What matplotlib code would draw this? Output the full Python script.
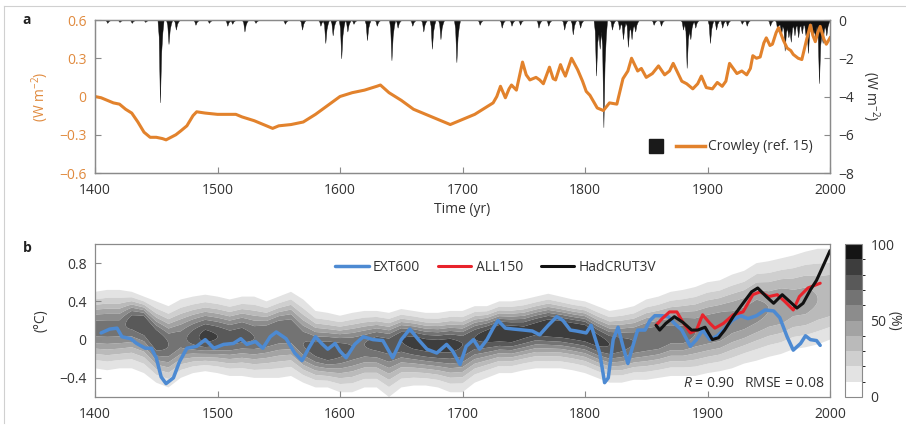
import numpy as np
import matplotlib
matplotlib.use("Agg")
import matplotlib.pyplot as plt
from matplotlib.colors import ListedColormap, BoundaryNorm
from matplotlib.lines import Line2D
from matplotlib.legend_handler import HandlerTuple
from matplotlib.ticker import FuncFormatter, FixedLocator

plt.rcParams['font.family'] = ['Open Sans', 'DejaVu Sans']
plt.rcParams['mathtext.fontset'] = 'custom'
plt.rcParams['mathtext.rm'] = 'Open Sans'
plt.rcParams['mathtext.it'] = 'Open Sans:italic'
plt.rcParams['font.size'] = 10

# ---------------- Panel a data ----------------
crowley_years = [1400, 1405, 1410, 1415, 1420, 1425, 1430, 1435, 1440, 1445, 1450, 1455, 1458, 1462,
                 1466, 1470, 1475, 1480, 1483, 1490, 1500, 1510, 1515, 1520, 1530, 1540, 1545, 1550,
                 1560, 1570, 1580, 1590, 1600, 1610, 1620, 1630, 1633, 1640, 1650, 1660, 1670, 1680,
                 1690, 1700, 1710, 1720, 1725, 1728, 1731, 1735, 1738, 1740, 1744, 1749, 1752, 1755,
                 1760, 1763, 1766, 1771, 1774, 1776, 1780, 1782, 1784, 1789, 1794, 1798, 1801, 1804,
                 1810, 1815, 1820, 1826, 1831, 1835, 1838, 1843, 1846, 1850, 1855, 1860, 1865, 1869,
                 1872, 1876, 1879, 1883, 1888, 1892, 1895, 1899, 1904, 1908, 1912, 1915, 1918, 1921,
                 1924, 1928, 1932, 1935, 1937, 1940, 1943, 1946, 1948, 1951, 1953, 1956, 1958, 1962,
                 1965, 1968, 1970, 1974, 1977, 1981, 1984, 1986, 1988, 1990, 1992, 1995, 1997, 2000]
crowley_vals = [0.0, -0.01, -0.03, -0.05, -0.06, -0.10, -0.13, -0.20, -0.28, -0.32, -0.32, -0.33, -0.34, -0.32,
                -0.30, -0.27, -0.23, -0.15, -0.12, -0.13, -0.14, -0.14, -0.14, -0.16, -0.19, -0.23, -0.25, -0.23,
                -0.22, -0.20, -0.14, -0.07, 0.0, 0.03, 0.05, 0.08, 0.09, 0.03, -0.03, -0.10, -0.14, -0.18,
                -0.22, -0.18, -0.14, -0.08, -0.05, 0.0, 0.08, -0.01, 0.06, 0.09, 0.05, 0.27, 0.17, 0.13,
                0.15, 0.13, 0.10, 0.23, 0.14, 0.13, 0.25, 0.20, 0.16, 0.30, 0.21, 0.12, 0.04, 0.01,
                -0.09, -0.11, -0.05, -0.06, 0.14, 0.20, 0.30, 0.20, 0.22, 0.15, 0.18, 0.24, 0.17, 0.20,
                0.26, 0.18, 0.12, 0.10, 0.06, 0.10, 0.16, 0.07, 0.06, 0.11, 0.08, 0.12, 0.26, 0.22,
                0.18, 0.20, 0.17, 0.22, 0.32, 0.30, 0.31, 0.42, 0.46, 0.40, 0.41, 0.50, 0.54, 0.44,
                0.38, 0.36, 0.33, 0.30, 0.29, 0.45, 0.56, 0.48, 0.43, 0.50, 0.55, 0.45, 0.41, 0.46]

volc_years = [1410, 1420, 1430, 1441, 1453, 1460, 1466, 1482, 1493, 1508, 1512, 1522, 1531, 1555,
              1569, 1584, 1588, 1594, 1601, 1606, 1611, 1622, 1630, 1642, 1647, 1659, 1668, 1675,
              1682, 1695, 1714, 1732, 1740, 1747, 1762, 1770, 1783, 1790, 1796, 1809, 1812, 1815,
              1822, 1828, 1831, 1835, 1838, 1841, 1856, 1862, 1880, 1883, 1886, 1890, 1902, 1907,
              1912, 1916, 1928, 1932, 1951, 1957, 1960, 1963, 1966, 1968, 1971, 1974, 1977, 1980,
              1982, 1986, 1988, 1991, 1994, 1997]
volc_peaks = [-0.15, -0.1, -0.15, -0.1, -4.3, -1.25, -0.5, -0.25, -0.15, -0.3, -0.2, -0.6, -0.15, -0.2,
              -0.5, -0.3, -1.2, -0.8, -2.0, -0.6, -0.2, -1.05, -0.3, -2.1, -0.4, -0.3, -0.6, -1.5,
              -1.0, -2.2, -0.25, -0.4, -0.3, -0.25, -0.4, -0.3, -0.5, -0.75, -0.4, -2.9, -1.5, -5.6,
              -0.5, -0.5, -1.0, -1.4, -1.0, -0.6, -0.25, -0.3, -0.5, -2.5, -1.0, -0.4, -1.2, -0.5,
              -0.4, -0.3, -0.2, -0.3, -0.3, -0.6, -0.8, -1.6, -0.9, -1.0, -0.8, -0.9, -0.7, -0.8,
              -1.6, -0.9, -0.8, -3.3, -1.2, -0.8]

# ---------------- Panel b data ----------------
ext_years = [1405, 1412, 1418, 1422, 1429, 1434, 1441, 1446, 1450, 1454, 1458, 1464, 1469, 1475, 1483,
             1490, 1497, 1505, 1513, 1519, 1524, 1531, 1537, 1543, 1548, 1556, 1563, 1569, 1574, 1580,
             1585, 1590, 1596, 1600, 1605, 1612, 1619, 1627, 1635, 1643, 1650, 1657, 1664, 1671, 1679,
             1687, 1692, 1698, 1703, 1709, 1714, 1720, 1725, 1729, 1735, 1742, 1750, 1757, 1763, 1770,
             1777, 1782, 1788, 1793, 1801, 1805, 1812, 1816, 1819, 1823, 1827, 1831, 1835, 1839, 1843,
             1849, 1853, 1857, 1863, 1868, 1873, 1879, 1886, 1891, 1896, 1902, 1908, 1913, 1920, 1927,
             1933, 1940, 1947, 1954, 1959, 1965, 1970, 1976, 1980, 1984, 1989, 1992]
ext_vals = [0.07, 0.11, 0.12, 0.03, 0.01, -0.04, -0.09, -0.09, -0.19, -0.39, -0.46, -0.40, -0.23, -0.09, -0.07,
            0.0, -0.09, -0.05, -0.04, 0.01, -0.05, -0.02, -0.09, 0.03, 0.08, 0.01, -0.14, -0.22, -0.10, 0.03,
            -0.04, -0.10, -0.04, -0.12, -0.19, -0.05, 0.03, 0.0, -0.01, -0.19, 0.0, 0.11, 0.0, -0.10, -0.14,
            -0.05, -0.12, -0.26, -0.07, 0.0, -0.10, 0.0, 0.12, 0.20, 0.12, 0.11, 0.10, 0.09, 0.05, 0.15,
            0.24, 0.20, 0.10, 0.09, 0.07, 0.15, -0.14, -0.45, -0.40, 0.0, 0.13, -0.07, -0.25, -0.07, 0.10,
            0.10, 0.20, 0.25, 0.25, 0.24, 0.17, 0.10, -0.07, 0.0, 0.10, 0.0, 0.04, 0.10, 0.20, 0.25,
            0.22, 0.25, 0.31, 0.30, 0.23, 0.03, -0.11, -0.04, 0.04, 0.0, -0.01, -0.06]

all_years = [1858, 1863, 1869, 1875, 1880, 1886, 1891, 1896, 1902, 1906, 1913, 1921, 1929, 1937, 1943,
             1950, 1957, 1963, 1970, 1975, 1982, 1988, 1992]
all_vals = [0.15, 0.22, 0.29, 0.29, 0.18, 0.07, 0.10, 0.26, 0.17, 0.12, 0.17, 0.26, 0.29, 0.47, 0.50,
            0.45, 0.47, 0.40, 0.31, 0.45, 0.54, 0.57, 0.59]

had_years = [1858, 1861, 1866, 1873, 1880, 1887, 1892, 1898, 1904, 1909, 1914, 1921, 1929, 1936, 1941,
             1948, 1954, 1961, 1967, 1973, 1978, 1984, 1989, 1994, 2000]
had_vals = [0.15, 0.10, 0.17, 0.24, 0.18, 0.10, 0.10, 0.13, 0.0, 0.02, 0.10, 0.24, 0.38, 0.50, 0.54,
            0.45, 0.38, 0.47, 0.40, 0.33, 0.38, 0.52, 0.62, 0.76, 0.93]

# probability field (ensemble): centre, upper/lower 10 % envelope, peak percentage
dens_years = list(range(1400, 2001, 10))
dens_center = [0.12, 0.12, 0.12, 0.20, 0.18, 0.00, -0.05, 0.00, 0.02, 0.03, 0.03, 0.02, 0.05, 0.02, 0.05,
               0.10, 0.10, -0.05, -0.10, -0.12, -0.10, -0.08, -0.05, -0.03, -0.05, 0.00, -0.02, -0.05,
               -0.06, -0.05, -0.05, 0.02, 0.05, 0.08, 0.07, 0.08, 0.12, 0.13, 0.12, 0.10, 0.08, 0.00,
               -0.05, -0.05, -0.03, 0.00, 0.02, 0.05, 0.05, 0.07, 0.10, 0.13, 0.18, 0.22, 0.30, 0.32,
               0.35, 0.38, 0.40, 0.42, 0.45]
dens_upper = [0.50, 0.52, 0.52, 0.50, 0.45, 0.40, 0.35, 0.42, 0.45, 0.47, 0.45, 0.42, 0.45, 0.45, 0.40,
              0.45, 0.50, 0.42, 0.30, 0.28, 0.25, 0.28, 0.30, 0.30, 0.28, 0.32, 0.30, 0.28, 0.28, 0.30,
              0.30, 0.35, 0.35, 0.40, 0.40, 0.42, 0.45, 0.48, 0.45, 0.42, 0.40, 0.35, 0.30, 0.32, 0.35,
              0.42, 0.45, 0.50, 0.52, 0.55, 0.60, 0.62, 0.68, 0.72, 0.80, 0.82, 0.85, 0.88, 0.92, 0.95,
              0.95]
dens_lower = [-0.30, -0.32, -0.30, -0.30, -0.35, -0.45, -0.50, -0.40, -0.35, -0.33, -0.35, -0.38, -0.38,
              -0.40, -0.40, -0.40, -0.38, -0.45, -0.50, -0.50, -0.55, -0.55, -0.50, -0.50, -0.60, -0.50,
              -0.48, -0.48, -0.50, -0.55, -0.55, -0.45, -0.40, -0.35, -0.35, -0.32, -0.30, -0.30, -0.30,
              -0.32, -0.35, -0.40, -0.45, -0.45, -0.42, -0.42, -0.40, -0.38, -0.38, -0.38, -0.35, -0.33,
              -0.30, -0.25, -0.22, -0.18, -0.15, -0.10, -0.08, -0.05, 0.00]
dens_peak = [65, 65, 65, 75, 80, 80, 70, 65, 75, 85, 80, 75, 75, 70, 70, 70, 70, 70, 75, 80, 75, 70, 70,
             75, 75, 80, 85, 85, 85, 85, 80, 80, 85, 90, 90, 85, 85, 90, 90, 90, 90, 85, 80, 75, 70, 70,
             70, 65, 65, 60, 60, 60, 55, 55, 55, 50, 50, 45, 45, 40, 40]

ORANGE = '#e2822c'
ORANGE_TXT = '#e08a3e'
BLUE = '#4d8ad2'
RED = '#e8232b'
SPINE = '#8a8a8a'
TXT = '#333333'

fig = plt.figure(figsize=(9.06, 4.28), dpi=100)
W, H = 906.0, 428.0

def rect(l, t, r, b):
    return [l / W, 1 - b / H, (r - l) / W, (b - t) / H]

axa = fig.add_axes(rect(95, 20, 830, 173))
axa2 = axa.twinx()
axb = fig.add_axes(rect(95, 244, 830, 397))
cax = fig.add_axes(rect(845, 244, 862, 397))

# ---------- panel a ----------
yrs = np.arange(1399, 2002)
vol = np.zeros(len(yrs), dtype=float)
shape = [(-1, 0.2), (0, 1.0), (1, 0.4), (2, 0.15)]
for y, p in zip(volc_years, volc_peaks):
    for off, f in shape:
        i = y + off - yrs[0]
        if 0 <= i < len(vol):
            vol[i] += p * f
axa2.fill_between(yrs, 0, vol, color='#111111', lw=0.3, edgecolor='#111111')
axa2.set_ylim(-8, 0)
axa.plot(crowley_years, crowley_vals, color=ORANGE, lw=2.2, solid_joinstyle='round')
axa.set_zorder(axa2.get_zorder() + 1)
axa.patch.set_visible(False)

axa.set_xlim(1400, 2000)
axa.set_ylim(-0.6, 0.6)
axa.xaxis.set_major_locator(FixedLocator(range(1400, 2001, 100)))
axa.yaxis.set_major_locator(FixedLocator([-0.6, -0.3, 0, 0.3, 0.6]))
fmt1 = FuncFormatter(lambda v, p: '0' if abs(v) < 1e-9 else ('%.1f' % v).replace('-', '\u2212'))
axa.yaxis.set_major_formatter(fmt1)
axa2.yaxis.set_major_locator(FixedLocator([0, -2, -4, -6, -8]))
axa2.yaxis.set_major_formatter(FuncFormatter(lambda v, p: ('%d' % round(v)).replace('-', '\u2212')))

for ax in (axa, axa2, axb):
    for s in ax.spines.values():
        s.set_color(SPINE)
        s.set_linewidth(0.9)
axa.tick_params(axis='y', direction='in', length=4, color=SPINE, labelcolor=ORANGE_TXT, labelsize=10, pad=6)
axa.tick_params(axis='x', direction='in', length=4, color=SPINE, labelcolor=TXT, labelsize=10, pad=7)
axa2.tick_params(axis='y', direction='in', length=4, color=SPINE, labelcolor=TXT, labelsize=10, pad=6)
axa.set_xlabel('Time (yr)', color=TXT, fontsize=10, labelpad=3)
axa.set_ylabel('(W m$^{-2}$)', color=ORANGE_TXT, fontsize=10, labelpad=6)
axa2.set_ylabel('(W m$^{-2}$)', color=TXT, fontsize=10, rotation=270, labelpad=20)

h_sq = Line2D([], [], marker='s', color='#1a1a1a', linestyle='none', markersize=10)
h_ln = Line2D([], [], color=ORANGE, lw=2.5)
axa.legend([(h_sq, h_ln)], ['Crowley (ref. 15)'], handler_map={tuple: HandlerTuple(ndivide=None, pad=0.4)},
           loc='center', bbox_to_anchor=(0.86, 0.17), frameon=False, handlelength=4.6,
           handletextpad=0.2, fontsize=10, labelcolor=TXT)

# ---------- panel b ----------
tt = np.arange(1400, 2001)
yy = np.linspace(-0.6, 1.0, 321)
C = np.interp(tt, dens_years, dens_center)
U = np.interp(tt, dens_years, dens_upper)
L = np.interp(tt, dens_years, dens_lower)
P = np.interp(tt, dens_years, dens_peak)
k = np.sqrt(2 * np.log(P / 10.0))
su = (U - C) / k
sl = (C - L) / k
T, Y = np.meshgrid(tt, yy)
Cg, Ug, Lg, Pg = [np.broadcast_to(a, T.shape) for a in (C, su, sl, P)]
Z = np.where(Y >= Cg, Pg * np.exp(-0.5 * ((Y - Cg) / Ug) ** 2), Pg * np.exp(-0.5 * ((Y - Cg) / Lg) ** 2))

greys = [1.0, 0.89, 0.81, 0.73, 0.64, 0.55, 0.45, 0.35, 0.24, 0.08]
cmap = ListedColormap([(g, g, g) for g in greys])
levels = np.arange(0, 101, 10)
norm = BoundaryNorm(levels, cmap.N)
cf = axb.contourf(T, Y, Z, levels=levels, cmap=cmap, norm=norm, antialiased=True)

axb.plot(ext_years, ext_vals, color=BLUE, lw=2.5, label='EXT600', solid_capstyle='round')
axb.plot(all_years, all_vals, color=RED, lw=2.2, label='ALL150', solid_capstyle='round')
axb.plot(had_years, had_vals, color='#111111', lw=2.2, label='HadCRUT3V', solid_capstyle='round')

axb.set_xlim(1400, 2000)
axb.set_ylim(-0.6, 1.0)
axb.xaxis.set_major_locator(FixedLocator(range(1400, 2001, 100)))
axb.yaxis.set_major_locator(FixedLocator([-0.4, 0, 0.4, 0.8]))
axb.yaxis.set_major_formatter(fmt1)
axb.tick_params(axis='both', direction='in', length=4, color=SPINE, labelcolor=TXT, labelsize=10)
axb.tick_params(axis='y', pad=6)
axb.tick_params(axis='x', pad=7)
axb.set_ylabel('(\u00b0C)', color=TXT, fontsize=10, labelpad=8)
axb.legend(loc='center', bbox_to_anchor=(0.545, 0.845), ncol=3, frameon=False, handlelength=2.4,
           handletextpad=0.3, columnspacing=1.3, fontsize=10, labelcolor=TXT)
axb.text(0.80, 0.09, '$R$ = 0.90   RMSE = 0.08', transform=axb.transAxes, ha='left', va='center',
         fontsize=10, color=TXT)

cb = fig.colorbar(cf, cax=cax, ticks=[0, 50, 100])
cb.outline.set_edgecolor(SPINE)
cb.outline.set_linewidth(0.8)
cax.tick_params(length=0, labelsize=10, labelcolor=TXT, pad=6)
cax.set_ylabel('(%)', rotation=270, color=TXT, fontsize=10, labelpad=5)

fig.text(27 / W, 1 - 20 / H, 'a', ha='center', va='center', fontweight='bold', fontsize=10, color='#222222')
fig.text(27 / W, 1 - 248 / H, 'b', ha='center', va='center', fontweight='bold', fontsize=10, color='#222222')

fig.add_artist(Line2D([4 / W, 1.0], [1 - 6 / H, 1 - 6 / H], transform=fig.transFigure, color='#d0d0d0', lw=0.8))
fig.add_artist(Line2D([4 / W, 4 / W], [1 - 6 / H, 1 - 423 / H], transform=fig.transFigure, color='#d0d0d0', lw=0.8))

fig.savefig('out.png', dpi=100)
